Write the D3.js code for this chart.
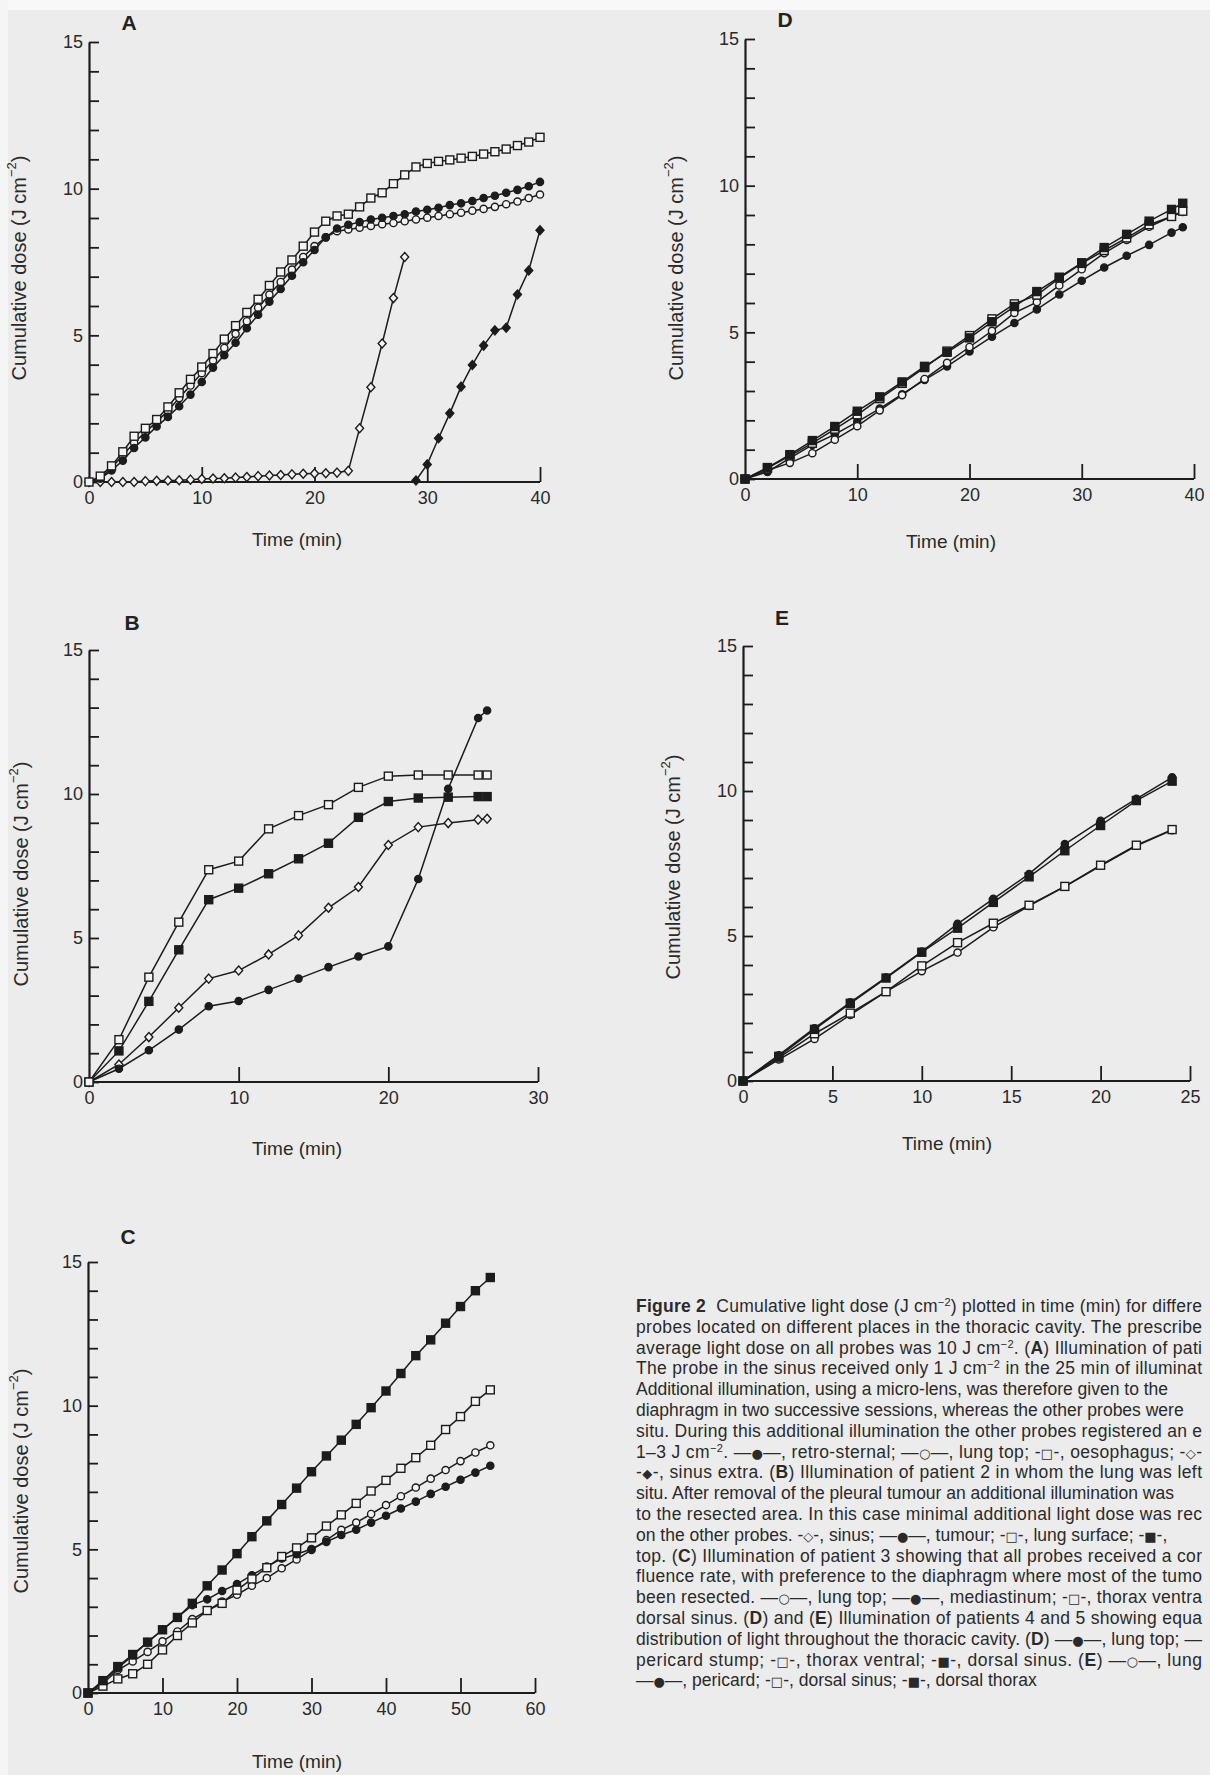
<!DOCTYPE html>
<html><head><meta charset="utf-8">
<script src="https://cdn.jsdelivr.net/npm/d3@7"></script>
<style>html,body{margin:0;padding:0;background:#ececec;} svg{display:block;}</style>
</head><body>
<svg id="fig" width="1210" height="1775"></svg>
<script>
// ---------------- DATA ----------------
const yMinorTicks = [0,1,2,3,4,5,6,7,8,9,10,11,12,13,14,15];
const yLabelTicks = [0,5,10,15];

// Panel A (patient 1)
const timeA = [0,1,2,3,4,5,6,7,8,9,10,11,12,13,14,15,16,17,18,19,20,21,22,23,24,25,26,27,28,29,30,31,32,33,34,35,36,37,38,39,40];
const aRetroSternal = [0,0.12,0.39,0.73,1.16,1.52,1.89,2.22,2.58,2.98,3.41,3.9,4.32,4.75,5.24,5.7,6.15,6.58,7.03,7.49,7.91,8.34,8.64,8.77,8.86,8.95,9.01,9.07,9.13,9.22,9.28,9.35,9.44,9.5,9.58,9.68,9.76,9.86,9.96,10.08,10.23];
const aLungTop = [0,0.12,0.49,0.91,1.34,1.7,2.05,2.43,2.86,3.29,3.71,4.14,4.57,5.05,5.48,5.94,6.39,6.82,7.24,7.67,8.04,8.34,8.55,8.61,8.67,8.73,8.79,8.83,8.89,8.95,9.01,9.07,9.13,9.18,9.25,9.31,9.38,9.47,9.56,9.68,9.8];
const aOesophagus = [0,0.2,0.55,1.03,1.56,1.83,2.13,2.56,3.04,3.5,3.92,4.38,4.87,5.33,5.78,6.23,6.7,7.16,7.57,8.04,8.52,8.89,9.07,9.13,9.38,9.68,9.86,10.17,10.47,10.74,10.86,10.93,10.98,11.04,11.1,11.18,11.26,11.35,11.47,11.59,11.75];
const timeASinus = [0,1,2,3,4,5,6,7,8,9,10,11,12,13,14,15,16,17,18,19,20,21,22,23,24,25,26,27,28];
const aSinus = [0,0,0,0,0,0.03,0.04,0.05,0.06,0.08,0.1,0.12,0.13,0.15,0.17,0.2,0.22,0.24,0.26,0.28,0.29,0.3,0.32,0.38,1.83,3.23,4.72,6.27,7.67];
const timeASinusExtra = [29,30,31,32,33,34,35,36,37,38,39,40];
const aSinusExtra = [0.05,0.6,1.49,2.34,3.25,3.99,4.65,5.17,5.26,6.39,7.21,8.58];

// Panel B (patient 2)
const timeB = [0,2,4,6,8,10,12,14,16,18,20,22,24,26,26.6];
const bSinus = [0,0.61,1.56,2.58,3.59,3.87,4.43,5.09,6.05,6.77,8.23,8.85,8.99,9.11,9.14];
const bTumour = [0,0.46,1.1,1.82,2.63,2.81,3.2,3.59,3.99,4.36,4.71,7.05,10.18,12.64,12.9];
const bLungSurface = [0,1.47,3.64,5.55,7.37,7.67,8.79,9.25,9.63,10.23,10.62,10.66,10.66,10.66,10.66];
const bLungTop = [0,1.08,2.8,4.59,6.33,6.73,7.23,7.75,8.29,9.19,9.74,9.86,9.89,9.91,9.91];

// Panel C (patient 3)
const timeC = [0,2,4,6,8,10,12,14,16,18,20,22,24,26,28,30,32,34,36,38,40,42,44,46,48,50,52,54];
const cLungTop = [0,0.33,0.8,1.1,1.43,1.8,2.14,2.57,2.87,3.18,3.42,3.73,4.0,4.34,4.65,4.98,5.32,5.68,5.93,6.23,6.54,6.85,7.15,7.46,7.76,8.07,8.37,8.62];
const cMediastinum = [0,0.4,0.86,1.31,1.77,2.2,2.63,3.06,3.26,3.55,3.79,4.1,4.4,4.68,4.83,5.01,5.26,5.5,5.68,5.93,6.17,6.42,6.66,6.93,7.18,7.42,7.67,7.91];
const cThoraxVentral = [0,0.24,0.49,0.67,1.0,1.5,2.0,2.44,2.87,3.12,3.58,3.97,4.36,4.75,5.05,5.4,5.81,6.2,6.6,7.03,7.4,7.82,8.19,8.62,9.17,9.62,10.15,10.55];
const cDorsalSinus = [0,0.43,0.92,1.34,1.77,2.2,2.63,3.12,3.73,4.28,4.85,5.44,5.99,6.56,7.13,7.7,8.25,8.8,9.35,9.93,10.51,11.12,11.74,12.29,12.87,13.45,14.0,14.46];

// Panel D (patient 4)
const timeD = [0,2,4,6,8,10,12,14,16,18,20,22,24,26,28,30,32,34,36,38,39];
const dLungTop = [0,0.24,0.71,1.16,1.52,1.95,2.4,2.89,3.38,3.84,4.35,4.85,5.32,5.78,6.29,6.76,7.21,7.61,7.98,8.4,8.58];
const dPericardStump = [0,0.3,0.55,0.88,1.34,1.8,2.34,2.86,3.41,3.96,4.5,5.05,5.66,6.03,6.6,7.15,7.7,8.15,8.6,8.95,9.1];
const dThoraxVentral = [0,0.37,0.79,1.22,1.7,2.19,2.74,3.26,3.8,4.36,4.89,5.46,5.97,6.27,6.85,7.35,7.79,8.22,8.67,8.95,9.13];
const dDorsalSinus = [0,0.39,0.83,1.31,1.79,2.31,2.8,3.31,3.84,4.32,4.81,5.36,5.88,6.39,6.88,7.37,7.89,8.34,8.79,9.19,9.4];

// Panel E (patient 5)
const timeE = [0,2,4,6,8,10,12,14,16,18,20,22,24];
const eLungTop = [0,0.74,1.45,2.28,3.08,3.79,4.43,5.3,6.04,6.7,7.42,8.11,8.65];
const ePericard = [0,0.89,1.82,2.71,3.57,4.46,5.42,6.28,7.14,8.17,8.97,9.73,10.47];
const eDorsalSinus = [0,0.8,1.63,2.34,3.08,3.97,4.77,5.44,6.06,6.71,7.44,8.13,8.67];
const eDorsalThorax = [0,0.85,1.78,2.68,3.55,4.44,5.27,6.16,7.04,7.94,8.81,9.67,10.34];

const xTicksA = [0,10,20,30,40];
const xTicksB = [0,10,20,30];
const xTicksC = [0,10,20,30,40,50,60];
const xTicksD = [0,10,20,30,40];
const xTicksE = [0,5,10,15,20,25];

const captionLines = [
  "{b}Figure 2{/b}\u00a0 Cumulative light dose (J cm{sup}\u22122{/sup}) plotted in time (min) for differe",
  "probes located on different places in the thoracic cavity. The prescribe",
  "average light dose on all probes was 10 J cm{sup}\u22122{/sup}. ({b}A{/b}) Illumination of pati",
  "The probe in the sinus received only 1 J cm{sup}\u22122{/sup} in the 25 min of illuminat",
  "Additional illumination, using a micro-lens, was therefore given to the",
  "diaphragm in two successive sessions, whereas the other probes were",
  "situ. During this additional illumination the other probes registered an e",
  "1\u20133 J cm{sup}\u22122{/sup}. \u2014\u25cf\u2014, retro-sternal; \u2014\u25cb\u2014, lung top; -\u25a1-, oesophagus; -\u25c7-",
  "-\u25c6-, sinus extra. ({b}B{/b}) Illumination of patient 2 in whom the lung was left",
  "situ. After removal of the pleural tumour an additional illumination was",
  "to the resected area. In this case minimal additional light dose was rec",
  "on the other probes. -\u25c7-, sinus; \u2014\u25cf\u2014, tumour; -\u25a1-, lung surface; -\u25a0-,",
  "top. ({b}C{/b}) Illumination of patient 3 showing that all probes received a cor",
  "fluence rate, with preference to the diaphragm where most of the tumo",
  "been resected. \u2014\u25cb\u2014, lung top; \u2014\u25cf\u2014, mediastinum; -\u25a1-, thorax ventra",
  "dorsal sinus. ({b}D{/b}) and ({b}E{/b}) Illumination of patients 4 and 5 showing equa",
  "distribution of light throughout the thoracic cavity. ({b}D{/b}) \u2014\u25cf\u2014, lung top; \u2014",
  "pericard stump; -\u25a1-, thorax ventral; -\u25a0-, dorsal sinus. ({b}E{/b}) \u2014\u25cb\u2014, lung",
  "\u2014\u25cf\u2014, pericard; -\u25a1-, dorsal sinus; -\u25a0-, dorsal thorax"
];

// ---------------- DRAWING ----------------
const INK = "#1c1c1c";
const BG = "#ececec";
const FONT = "'Liberation Sans', Arial, Helvetica, sans-serif";
const svg = d3.select("#fig");
svg.append("rect").attr("width",1210).attr("height",1775).attr("fill",BG);
svg.append("rect").attr("width",1210).attr("height",10).attr("fill","#f8f8f8");
svg.append("rect").attr("width",8).attr("height",1775).attr("fill","#f5f5f5");

function addYTitle(g, cx, cy) {
  const t = g.append("text").attr("transform",`translate(${cx},${cy}) rotate(-90)`)
    .attr("text-anchor","middle").attr("dominant-baseline","central")
    .attr("font-family",FONT).attr("font-size",20).attr("fill","#2a2a2a");
  t.append("tspan").text("Cumulative dose (J cm");
  t.append("tspan").attr("font-size",13).attr("dy",-8).text("\u22122");
  t.append("tspan").attr("dy",8).text(")");
}

function drawPanel(p) {
  const g = svg.append("g");
  const x = d3.scaleLinear().domain([0, p.xmax]).range([p.left, p.right]);
  const y = d3.scaleLinear().domain([0, 15]).range([p.bottom, p.top]);

  g.append("g").attr("transform",`translate(${p.left},0)`)
    .call(d3.axisLeft(y).tickValues(yMinorTicks).tickSize(-10).tickSizeOuter(0).tickFormat(""));
  const yl = g.append("g").attr("transform",`translate(${p.left},0)`)
    .call(d3.axisLeft(y).tickValues(yLabelTicks).tickSize(0).tickPadding(6).tickFormat(d3.format("d")));
  yl.select(".domain").remove();
  const xa = g.append("g").attr("transform",`translate(0,${p.bottom})`)
    .call(d3.axisBottom(x).tickValues(p.xticks.slice(1)).tickSize(-15).tickSizeOuter(0).tickFormat(""));
  xa.select(".domain").attr("d", `M${p.left},0H${p.right}`);
  const xl = g.append("g").attr("transform",`translate(0,${p.bottom})`)
    .call(d3.axisBottom(x).tickValues(p.xticks).tickSize(0).tickPadding(9).tickFormat(d3.format("d")));
  xl.select(".domain").remove();

  g.selectAll(".domain").attr("stroke",INK).attr("stroke-width",2.2);
  g.selectAll(".tick line").attr("stroke",INK).attr("stroke-width",1.8);
  g.selectAll(".tick text").attr("font-family",FONT).attr("font-size",18).attr("fill","#2a2a2a");

  const line = d3.line().x(d => x(d[0])).y(d => y(d[1]));
  p.series.forEach(s => {
    const pts = s.t.map((t,i) => [t, s.v[i]]);
    g.append("path").attr("d", line(pts)).attr("fill","none")
      .attr("stroke",INK).attr("stroke-width",1.5);
    const m = g.append("g");
    pts.forEach(d => {
      const cx = x(d[0]), cy = y(d[1]);
      let el;
      if (s.shape === "circle") {
        el = m.append("circle").attr("cx",cx).attr("cy",cy).attr("r",3.6);
      } else if (s.shape === "square") {
        el = m.append("rect").attr("x",cx-4).attr("y",cy-4).attr("width",8).attr("height",8);
      } else {
        el = m.append("path").attr("d",`M${cx},${cy-4.5}L${cx+4},${cy}L${cx},${cy+4.5}L${cx-4},${cy}Z`);
      }
      el.attr("fill", s.filled ? INK : "#f4f4f4").attr("stroke",INK).attr("stroke-width",1.4);
    });
  });

  g.append("text").attr("x",p.letter[0]).attr("y",p.letter[1]).attr("text-anchor","middle")
    .attr("font-family",FONT).attr("font-weight","bold").attr("font-size",21).attr("fill","#222")
    .text(p.name);
  g.append("text").attr("x",p.xtitle[0]).attr("y",p.xtitle[1]).attr("text-anchor","middle")
    .attr("font-family",FONT).attr("font-size",19).attr("fill","#2a2a2a").text("Time (min)");
  addYTitle(g, p.ytitle[0], p.ytitle[1]);
}

drawPanel({name:"A", xmax:40, xticks:xTicksA, left:89, right:540, top:42, bottom:482,
  letter:[129,30], xtitle:[297,546], ytitle:[19,268],
  series:[
    {t:timeASinus, v:aSinus, shape:"diamond", filled:false},
    {t:timeASinusExtra, v:aSinusExtra, shape:"diamond", filled:true},
    {t:timeA, v:aLungTop, shape:"circle", filled:false},
    {t:timeA, v:aRetroSternal, shape:"circle", filled:true},
    {t:timeA, v:aOesophagus, shape:"square", filled:false}
  ]});
drawPanel({name:"B", xmax:30, xticks:xTicksB, left:89, right:538, top:650, bottom:1082,
  letter:[132,630], xtitle:[297,1155], ytitle:[21,874],
  series:[
    {t:timeB, v:bSinus, shape:"diamond", filled:false},
    {t:timeB, v:bTumour, shape:"circle", filled:true},
    {t:timeB, v:bLungTop, shape:"square", filled:true},
    {t:timeB, v:bLungSurface, shape:"square", filled:false}
  ]});
drawPanel({name:"C", xmax:60, xticks:xTicksC, left:88, right:535, top:1262, bottom:1693,
  letter:[128,1244], xtitle:[297,1768], ytitle:[21,1481],
  series:[
    {t:timeC, v:cLungTop, shape:"circle", filled:false},
    {t:timeC, v:cMediastinum, shape:"circle", filled:true},
    {t:timeC, v:cThoraxVentral, shape:"square", filled:false},
    {t:timeC, v:cDorsalSinus, shape:"square", filled:true}
  ]});
drawPanel({name:"D", xmax:40, xticks:xTicksD, left:745, right:1194, top:39, bottom:479,
  letter:[785,27], xtitle:[951,548], ytitle:[676,268],
  series:[
    {t:timeD, v:dLungTop, shape:"circle", filled:true},
    {t:timeD, v:dPericardStump, shape:"circle", filled:false},
    {t:timeD, v:dThoraxVentral, shape:"square", filled:false},
    {t:timeD, v:dDorsalSinus, shape:"square", filled:true}
  ]});
drawPanel({name:"E", xmax:25, xticks:xTicksE, left:743, right:1190, top:646, bottom:1081,
  letter:[782,625], xtitle:[947,1150], ytitle:[673,867],
  series:[
    {t:timeE, v:eLungTop, shape:"circle", filled:false},
    {t:timeE, v:eDorsalSinus, shape:"square", filled:false},
    {t:timeE, v:eDorsalThorax, shape:"square", filled:true},
    {t:timeE, v:ePericard, shape:"circle", filled:true}
  ]});

// caption: lines that run into the page edge in the original are justified to the edge
const CAP_LEFT = 636, CAP_RIGHT = 1202;
const runsToEdge = new Set([0,1,2,3,6,7,8,10,12,13,14,15,16,17]);
const SYMBOL_RE = /([\u25cf\u25cb\u25a1\u25a0\u25c7\u25c6])/;
const cap = svg.append("g").attr("font-family",FONT).attr("font-size",17.5).attr("fill","#2a2a2a");
captionLines.forEach((line, i) => {
  const t = cap.append("text").attr("x",CAP_LEFT).attr("y",1312 + i*20.8);
  const parts = line.split(/(\{b\}.*?\{\/b\}|\{sup\}.*?\{\/sup\})/).filter(s => s.length);
  let pendingDy = 0;
  const addRun = (txt, bold) => {
    txt.split(SYMBOL_RE).filter(s => s.length).forEach(piece => {
      const ts = t.append("tspan").text(piece);
      if (bold) ts.attr("font-weight","bold");
      if (SYMBOL_RE.test(piece)) ts.attr("font-family","'DejaVu Sans', sans-serif").attr("font-size",13);
      if (pendingDy) { ts.attr("dy",pendingDy); pendingDy = 0; }
    });
  };
  parts.forEach(seg => {
    if (seg.startsWith("{b}")) {
      addRun(seg.slice(3,-4), true);
    } else if (seg.startsWith("{sup}")) {
      t.append("tspan").attr("font-size",11).attr("dy",-6).text(seg.slice(5,-6));
      pendingDy = 6;
    } else {
      addRun(seg, false);
    }
  });
  const len = t.node().getComputedTextLength();
  const avail = CAP_RIGHT - CAP_LEFT;
  if (len > avail) {
    t.attr("textLength", avail).attr("lengthAdjust","spacingAndGlyphs");
  } else if (runsToEdge.has(i)) {
    t.attr("textLength", avail).attr("lengthAdjust","spacing");
  }
});
</script>
</body></html>
